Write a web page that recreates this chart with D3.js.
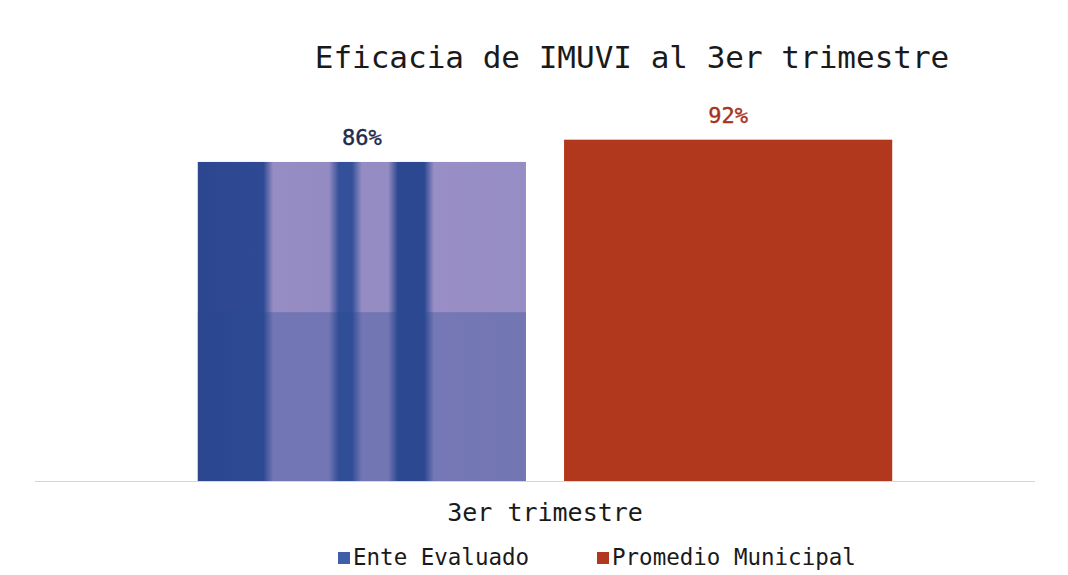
<!DOCTYPE html>
<html>
<head>
<meta charset="utf-8">
<script src="https://cdn.jsdelivr.net/npm/d3@7"></script>
<style>
  body { margin: 0; background: #fff; }
  text { font-family: "DejaVu Sans Mono", "Liberation Mono", monospace; }
</style>
</head>
<body>
<script>
// chart data
var categories = ["3er trimestre"];
var seriesNames = ["Ente Evaluado", "Promedio Municipal"];
var seriesValues = [86, 92];
var seriesColors = ["url(#enteFill)", "#b2381d"];
var labelColors = ["#1e2a4a", "#a8331c"];
var legendColors = ["#3f5fa8", "#b2381d"];

var width = 1068, height = 575;
var margin = {top: 110, right: 33, bottom: 94, left: 35};

var svg = d3.select("body").append("svg")
  .attr("width", width)
  .attr("height", height);

// gradient to mimic the striped scanned bar
var defs = svg.append("defs");
var grad = defs.append("linearGradient").attr("id", "enteFill")
  .attr("x1", 0).attr("x2", 1).attr("y1", 0).attr("y2", 0);
[[0, "#2d4690"], [0.2, "#2f4a94"], [0.23, "#978dc4"], [0.4, "#948bc3"],
 [0.43, "#34509a"], [0.47, "#34509a"], [0.5, "#958cc3"], [0.58, "#958cc3"],
 [0.61, "#2c4891"], [0.69, "#2c4891"], [0.72, "#998fc6"], [1, "#968dc4"]]
  .forEach(function(s) {
    grad.append("stop").attr("offset", s[0]).attr("stop-color", s[1]);
  });

// Set the ranges (plot area sits slightly right of the baseline rule)
var x0 = d3.scaleBand().domain(categories)
  .range([margin.left + 10, width - margin.right + 10])
  .paddingInner(0).paddingOuter(0.22);
var x1 = d3.scaleBand().domain(seriesNames)
  .range([0, x0.bandwidth()]).paddingInner(0.104);
var y = d3.scaleLinear().domain([0, 100])
  .range([height - margin.bottom, margin.top]);

// title
svg.append("text")
  .attr("x", 632).attr("y", 68)
  .attr("text-anchor", "middle")
  .attr("font-size", 31)
  .attr("fill", "#1a1a1a")
  .text("Eficacia de IMUVI al 3er trimestre");

var g = svg.append("g")
  .attr("transform", "translate(" + x0(categories[0]) + ",0)");

// bars
g.selectAll("rect.bar")
  .data(seriesValues)
  .enter().append("rect")
    .attr("class", "bar")
    .attr("x", function(d, i) { return x1(seriesNames[i]); })
    .attr("y", function(d) { return y(d); })
    .attr("width", x1.bandwidth())
    .attr("height", function(d) { return y(0) - y(d); })
    .attr("fill", function(d, i) { return seriesColors[i]; });

// darker lower half on the blue bar (scan shading)
g.append("rect")
  .attr("x", x1(seriesNames[0]))
  .attr("y", y(45.5))
  .attr("width", x1.bandwidth())
  .attr("height", y(0) - y(45.5))
  .attr("fill", "#2c4891")
  .attr("opacity", 0.33);

// value labels
g.selectAll("text.val")
  .data(seriesValues)
  .enter().append("text")
    .attr("class", "val")
    .attr("x", function(d, i) { return x1(seriesNames[i]) + x1.bandwidth() / 2; })
    .attr("y", function(d) { return y(d) - 17; })
    .attr("text-anchor", "middle")
    .attr("font-size", 22)
    .attr("fill", function(d, i) { return labelColors[i]; })
    .attr("stroke", function(d, i) { return labelColors[i]; })
    .attr("stroke-width", 0.4)
    .text(function(d) { return d + "%"; });

// X Axis
var xAxis = d3.axisBottom(x0).tickSize(0).tickPadding(22);
var ax = svg.append("g")
  .attr("transform", "translate(0," + y(0) + ")")
  .call(xAxis);
ax.select(".domain").remove();
ax.selectAll("text")
  .attr("font-size", 25)
  .attr("fill", "#1a1a1a")
  .attr("font-family", "DejaVu Sans Mono, monospace");
svg.append("line")
  .attr("x1", margin.left).attr("x2", width - margin.right)
  .attr("y1", y(0) + 0.5).attr("y2", y(0) + 0.5)
  .attr("stroke", "#d6d6d6");

// legend
var legendX = [338, 597];
var lg = svg.selectAll("g.legend")
  .data(seriesNames)
  .enter().append("g")
    .attr("class", "legend")
    .attr("transform", function(d, i) { return "translate(" + legendX[i] + ",552)"; });
lg.append("rect")
  .attr("width", 12).attr("height", 12)
  .attr("fill", function(d, i) { return legendColors[i]; });
lg.append("text")
  .attr("x", 15).attr("y", 13)
  .attr("font-size", 22.5)
  .attr("fill", "#1a1a1a")
  .text(function(d) { return d; });
</script>
</body>
</html>
